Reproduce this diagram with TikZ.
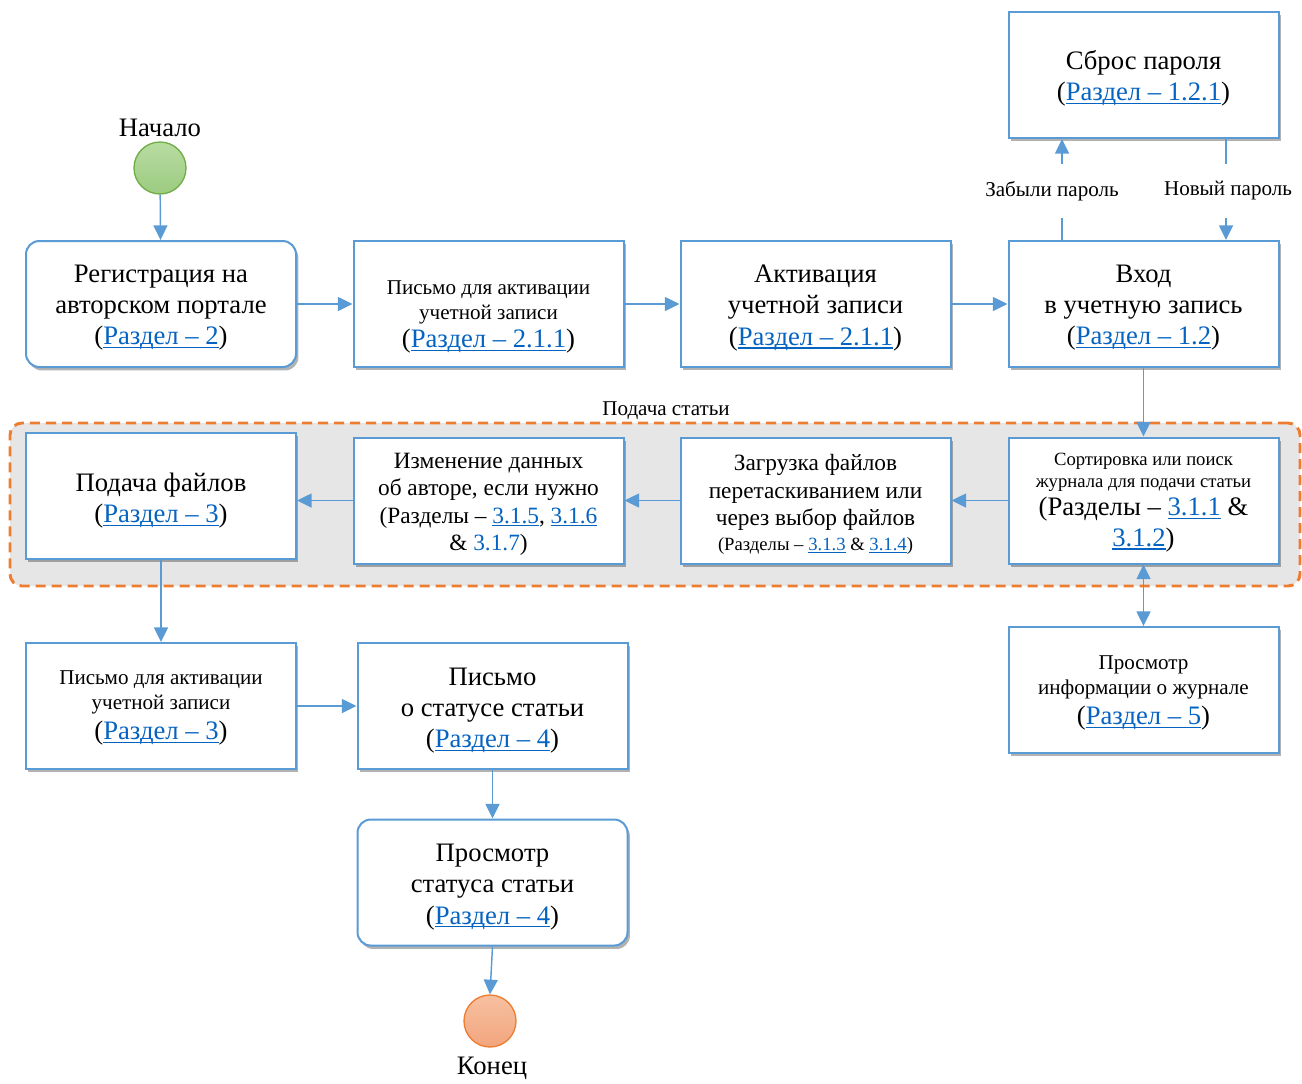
\documentclass[tikz,border=0pt]{standalone}
\usepackage{fontspec}
\setmainfont{Liberation Serif}
\usetikzlibrary{arrows.meta,shadows}
\definecolor{bordblue}{HTML}{5B9BD5}
\definecolor{linkblue}{HTML}{0563C1}
\definecolor{orng}{HTML}{ED7D31}
\definecolor{regiongray}{HTML}{E7E6E6}
\definecolor{startfillA}{HTML}{B8DCA2}
\definecolor{startfillB}{HTML}{9CCB80}
\definecolor{startline}{HTML}{70AD47}
\definecolor{endfillA}{HTML}{F7C0A0}
\definecolor{endfillB}{HTML}{F2A57E}
\newcommand{\szL}{\fontsize{20}{23.3}\selectfont}
\newcommand{\szM}{\fontsize{15.8}{18.3}\selectfont}
\newcommand{\szC}{\fontsize{17.5}{20.6}\selectfont}
\newcommand{\szS}{\fontsize{14}{16.5}\selectfont}
\newcommand{\lnk}[1]{{\color{linkblue}\setbox0\hbox{#1}\rlap{\rule[-0.13em]{\wd0}{0.05em}}\box0}}
\begin{document}
\begin{tikzpicture}[x=0.75pt,y=-0.75pt,
  box/.style={draw=bordblue, line width=1.5pt, fill=white, minimum width=202.5pt,
    minimum height=94.5pt, inner sep=0pt,
    drop shadow={shadow xshift=1.8pt, shadow yshift=-2.6pt, opacity=0.3, fill=black}},
  rbox/.style={box, rounded corners=10pt},
  txt/.style={align=center, inner sep=0pt, font=\szL},
  conn/.style={draw=bordblue, line width=1.1pt},
  arr/.style={conn, -{Triangle[length=11pt,width=10.5pt]}},
  darr/.style={conn, {Triangle[length=11pt,width=10.5pt]}-{Triangle[length=11pt,width=10.5pt]}},
  lbl/.style={font=\szM, inner sep=0pt},
  gap/.style={lbl, minimum height=40pt},
  region/.style={draw=orng, line width=2.2pt, dash pattern=on 7.5pt off 4.5pt,
    fill=regiongray, rounded corners=9pt, minimum width=967.5pt, minimum height=122.25pt, inner sep=0pt},
  startc/.style={circle, draw=startline, line width=1pt, top color=startfillA, bottom color=startfillB,
    minimum size=39pt, inner sep=0pt},
  endc/.style={circle, draw=orng, line width=1pt, top color=endfillA, bottom color=endfillB,
    minimum size=39pt, inner sep=0pt}
]
\useasboundingbox (0,0) rectangle (1302,1083);

% region
\node[region] (sub) at (655,504.5) {};
\node[lbl] (sublbl) at (666,411) {Подача статьи};

% start / end
\node[font=\szL, inner sep=0pt] (startlbl) at (160,128) {Начало};
\node[startc] (start) at (160,168) {};
\node[endc] (end) at (490,1021) {};
\node[font=\szL, inner sep=0pt] (endlbl) at (492,1068) {Конец};

% boxes
\node[rbox] (reg) at (161,304) {};
\node[box] (mail1) at (488.5,304) {};
\node[box] (act) at (815.5,304) {};
\node[box] (login) at (1143.5,304) {};
\node[box] (reset) at (1143.5,75) {};
\node[box] (files) at (161,496) {};
\node[box] (edit) at (488.5,500.5) {};
\node[box] (upload) at (815.5,500.5) {};
\node[box] (sort) at (1143.5,500.5) {};
\node[box] (jinfo) at (1143.5,690) {};
\node[box] (mail2) at (161,706) {};
\node[box] (status) at (492.5,706) {};
\node[rbox] (view) at (492.5,882.5) {};

% texts
\node[txt] (regT) at ([yshift=-3pt]reg.center) {Регистрация на\\авторском портале\\(\lnk{Раздел – 2})};
\node[txt, font=\szM] (mail1T) at ([yshift=-9.75pt]mail1.center) {Письмо для активации\\учетной записи\\[3pt]\szL (\lnk{Раздел – 2.1.1})};
\node[txt] (actT) at ([yshift=-3pt]act.center) {Активация\\учетной записи\\(\lnk{Раздел – 2.1.1})};
\node[txt] (loginT) at ([yshift=-3pt]login.center) {Вход\\в учетную запись\\(\lnk{Раздел – 1.2})};
\node[txt] (resetT) at ([yshift=-2.6pt]reset.center) {Сброс пароля\\(\lnk{Раздел – 1.2.1})};
\node[txt] (filesT) at ([yshift=-3.75pt]files.center) {Подача файлов\\(\lnk{Раздел – 3})};
\node[txt, font=\szC] (editT) at ([yshift=-3pt]edit.center) {Изменение данных\\об авторе, если нужно\\(Разделы – \lnk{3.1.5}, \lnk{3.1.6}\\\& {\color{linkblue}3.1.7})};
\node[txt, font=\szC] (uploadT) at ([yshift=-3pt]upload.center) {Загрузка файлов\\перетаскиванием или\\через выбор файлов\\[-2pt]\szS (Разделы – \lnk{3.1.3} \& \lnk{3.1.4})};
\node[txt, font=\szS] (sortT) at ([yshift=-1.5pt]sort.center) {Сортировка или поиск\\журнала для подачи статьи\\[3pt]\szL (Разделы – \lnk{3.1.1} \&\\[3.75pt]\szL\lnk{3.1.2})};
\node[txt, font=\szM] (jinfoT) at ([yshift=-2.25pt]jinfo.center) {Просмотр\\информации о журнале\\[4.5pt]\szL (\lnk{Раздел – 5})};
\node[txt, font=\szM] (mail2T) at ([yshift=-1.5pt]mail2.center) {Письмо для активации\\учетной записи\\[4.5pt]\szL (\lnk{Раздел – 3})};
\node[txt] (statusT) at ([yshift=-3.4pt]status.center) {Письмо\\о статусе статьи\\(\lnk{Раздел – 4})};
\node[txt] (viewT) at ([yshift=-3.4pt]view.center) {Просмотр\\статуса статьи\\(\lnk{Раздел – 4})};

% password labels
\node[gap] (forgot) at (1052,191) {Забыли пароль};
\node[gap] (newpw) at (1228,191) {Новый пароль};
\coordinate (fx) at (1062,0);
\coordinate (nx) at (1226,0);

% connectors
\draw[arr] (start) -- (reg);
\draw[arr] (reg) -- (mail1);
\draw[arr] (mail1) -- (act);
\draw[arr] (act) -- (login);
\draw[conn] (login.north -| fx) -- (forgot.south -| fx);
\draw[arr] (forgot.north -| fx) -- (reset.south -| fx);
\draw[conn] (reset.south -| nx) -- (newpw.north -| nx);
\draw[arr] (newpw.south -| nx) -- (login.north -| nx);
\draw[arr] (login) -- (sort);
\draw[arr] (sort) -- (upload);
\draw[arr] (upload) -- (edit);
\draw[arr] (edit.west) -- (edit.west -| files.east);
\draw[darr] (sort) -- (jinfo);
\draw[arr] (files) -- (mail2);
\draw[arr] (mail2) -- (status);
\draw[arr] (status) -- (view);
\draw[arr] (view.south) -- (end.north);
\end{tikzpicture}
\end{document}
